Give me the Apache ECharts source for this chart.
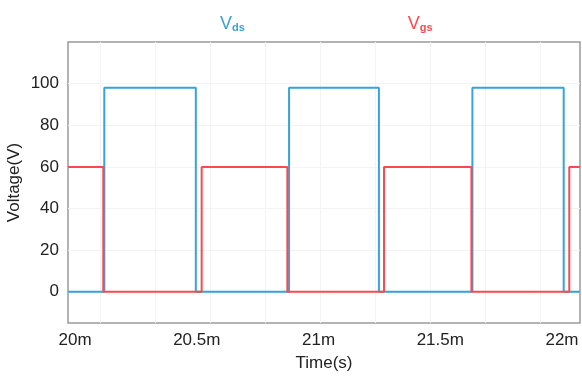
<!DOCTYPE html>
<html>
<head>
<meta charset="utf-8">
<script src="https://cdn.jsdelivr.net/npm/echarts@6/dist/echarts.min.js"></script>
<style>
  html, body { margin: 0; padding: 0; background: #fff; }
  #chart { width: 582px; height: 376px; }
</style>
</head>
<body>
<div id="chart"></div>
<script>
// Time axis in milliseconds; each series is a zero-order hold: value holds from its time to the next one.
const vdsTimes = [19.971, 20.120, 20.496, 20.879, 21.248, 21.632, 22.007, 22.074];
const vdsValues = [0, 98, 0, 98, 0, 98, 0, 0];
const vgsTimes = [19.971, 20.116, 20.520, 20.872, 21.269, 21.628, 22.030, 22.074];
const vgsValues = [60, 0, 60, 0, 60, 0, 60, 60];

const xLabelTicks = [20, 20.5, 21, 21.5, 22];
const xGridTicks = [20.103, 20.329, 20.554, 20.780, 21.006, 21.232, 21.458, 21.684, 21.910];
const yTicks = [0, 20, 40, 60, 80, 100];

const BLUE = '#36a3da';
const RED = '#fb4a4f';

const zip = (ts, vs) => ts.map((t, i) => [t, vs[i]]);

const chart = echarts.init(document.getElementById('chart'), null, { renderer: 'canvas' });
chart.setOption({
  animation: false,
  backgroundColor: '#ffffff',
  textStyle: { fontFamily: 'Liberation Sans, Arial, sans-serif' },
  grid: {
    left: 68, right: 2, top: 42, bottom: 53,
    outerBoundsMode: 'none', containLabel: false,
    show: true, borderColor: '#9a9a9a', borderWidth: 1.5, backgroundColor: 'transparent'
  },
  legend: {
    left: 210, top: 10, icon: 'none', itemWidth: 0, itemGap: 158,
    data: ['Vds', 'Vgs'],
    selectedMode: false,
    formatter: name => name === 'Vds' ? '{vd|V}{sd|ds}' : '{vg|V}{sg|gs}',
    textStyle: {
      rich: {
        vd: { color: BLUE, fontSize: 18, fontFamily: 'Liberation Sans' },
        sd: { color: BLUE, fontSize: 11, fontWeight: 'bold', fontFamily: 'Liberation Sans', verticalAlign: 'bottom', padding: [8, 0, 0, 0] },
        vg: { color: RED, fontSize: 18, fontFamily: 'Liberation Sans' },
        sg: { color: RED, fontSize: 11, fontWeight: 'bold', fontFamily: 'Liberation Sans', verticalAlign: 'bottom', padding: [8, 0, 0, 0] }
      }
    }
  },
  xAxis: {
    type: 'value', min: 19.971, max: 22.074,
    name: 'Time(s)', nameLocation: 'middle', nameGap: 32, nameMoveOverlap: false,
    nameTextStyle: { fontSize: 17, color: '#222' },
    axisLine: { show: false },
    axisTick: { show: false, customValues: xGridTicks },
    axisLabel: {
      customValues: xLabelTicks, fontSize: 17, color: '#222', margin: 9,
      formatter: v => v + 'm'
    },
    splitLine: { show: true, lineStyle: { color: '#f3f3f3', width: 1 } }
  },
  yAxis: {
    type: 'value', min: -15, max: 120,
    name: 'Voltage(V)', nameLocation: 'middle', nameGap: 45, nameMoveOverlap: false,
    nameTextStyle: { fontSize: 17, color: '#222' },
    axisLine: { show: false },
    axisTick: { show: false, customValues: yTicks },
    axisLabel: { customValues: yTicks, fontSize: 17, color: '#222', margin: 9 },
    splitLine: { show: true, lineStyle: { color: '#f3f3f3', width: 1 } }
  },
  series: [
    {
      name: 'Vds', type: 'line', step: 'end', showSymbol: false,
      data: zip(vdsTimes, vdsValues),
      lineStyle: { color: BLUE, width: 2 }, itemStyle: { color: BLUE }
    },
    {
      name: 'Vgs', type: 'line', step: 'end', showSymbol: false,
      data: zip(vgsTimes, vgsValues),
      lineStyle: { color: RED, width: 2 }, itemStyle: { color: RED }
    }
  ]
});
</script>
</body>
</html>
